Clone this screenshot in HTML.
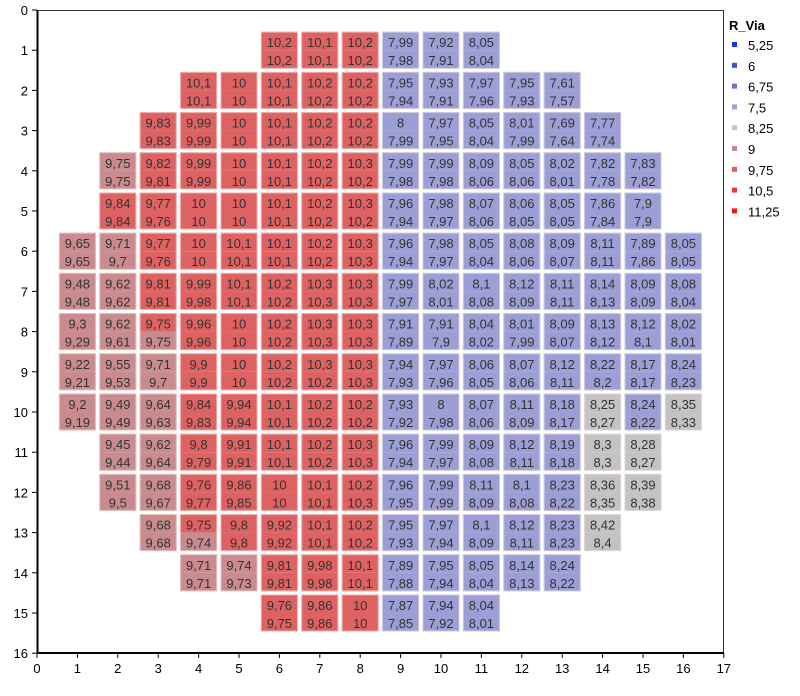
<!DOCTYPE html>
<html><head><meta charset="utf-8"><style>
body{margin:0;background:#fff;}
svg{font-family:"Liberation Sans",Arial,sans-serif;}
</style></head><body>
<svg id="s" width="800" height="691" xmlns="http://www.w3.org/2000/svg"></svg>
<script>
var D={
1:{6:"10,2/10,2",7:"10,1/10,1",8:"10,2/10,2",9:"7,99/7,98",10:"7,92/7,91",11:"8,05/8,04"},
2:{4:"10,1/10,1",5:"10/10",6:"10,1/10,1",7:"10,2/10,2",8:"10,2/10,2",9:"7,95/7,94",10:"7,93/7,91",11:"7,97/7,96",12:"7,95/7,93",13:"7,61/7,57"},
3:{3:"9,83/9,83",4:"9,99/9,99",5:"10/10",6:"10,1/10,1",7:"10,2/10,2",8:"10,2/10,2",9:"8/7,99",10:"7,97/7,95",11:"8,05/8,04",12:"8,01/7,99",13:"7,69/7,64",14:"7,77/7,74"},
4:{2:"9,75/9,75",3:"9,82/9,81",4:"9,99/9,99",5:"10/10",6:"10,1/10,1",7:"10,2/10,2",8:"10,3/10,2",9:"7,99/7,98",10:"7,99/7,98",11:"8,09/8,06",12:"8,05/8,06",13:"8,02/8,01",14:"7,82/7,78",15:"7,83/7,82"},
5:{2:"9,84/9,84",3:"9,77/9,76",4:"10/10",5:"10/10",6:"10,1/10,1",7:"10,2/10,2",8:"10,3/10,2",9:"7,96/7,94",10:"7,98/7,97",11:"8,07/8,06",12:"8,06/8,05",13:"8,05/8,05",14:"7,86/7,84",15:"7,9/7,9"},
6:{1:"9,65/9,65",2:"9,71/9,7",3:"9,77/9,76",4:"10/10",5:"10,1/10,1",6:"10,1/10,1",7:"10,2/10,2",8:"10,3/10,3",9:"7,96/7,94",10:"7,98/7,97",11:"8,05/8,04",12:"8,08/8,06",13:"8,09/8,07",14:"8,11/8,11",15:"7,89/7,86",16:"8,05/8,05"},
7:{1:"9,48/9,48",2:"9,62/9,62",3:"9,81/9,81",4:"9,99/9,98",5:"10,1/10,1",6:"10,2/10,2",7:"10,3/10,3",8:"10,3/10,3",9:"7,99/7,97",10:"8,02/8,01",11:"8,1/8,08",12:"8,12/8,09",13:"8,11/8,11",14:"8,14/8,13",15:"8,09/8,09",16:"8,08/8,04"},
8:{1:"9,3/9,29",2:"9,62/9,61",3:"9,75/9,75",4:"9,96/9,96",5:"10/10",6:"10,2/10,2",7:"10,3/10,3",8:"10,3/10,3",9:"7,91/7,89",10:"7,91/7,9",11:"8,04/8,02",12:"8,01/7,99",13:"8,09/8,07",14:"8,13/8,12",15:"8,12/8,1",16:"8,02/8,01"},
9:{1:"9,22/9,21",2:"9,55/9,53",3:"9,71/9,7",4:"9,9/9,9",5:"10/10",6:"10,2/10,2",7:"10,3/10,2",8:"10,3/10,3",9:"7,94/7,93",10:"7,97/7,96",11:"8,06/8,05",12:"8,07/8,06",13:"8,12/8,11",14:"8,22/8,2",15:"8,17/8,17",16:"8,24/8,23"},
10:{1:"9,2/9,19",2:"9,49/9,49",3:"9,64/9,63",4:"9,84/9,83",5:"9,94/9,94",6:"10,1/10,1",7:"10,2/10,2",8:"10,2/10,2",9:"7,93/7,92",10:"8/7,98",11:"8,07/8,06",12:"8,11/8,09",13:"8,18/8,17",14:"8,25/8,27",15:"8,24/8,22",16:"8,35/8,33"},
11:{2:"9,45/9,44",3:"9,62/9,64",4:"9,8/9,79",5:"9,91/9,91",6:"10,1/10,1",7:"10,2/10,2",8:"10,3/10,3",9:"7,96/7,94",10:"7,99/7,97",11:"8,09/8,08",12:"8,12/8,11",13:"8,19/8,18",14:"8,3/8,3",15:"8,28/8,27"},
12:{2:"9,51/9,5",3:"9,68/9,67",4:"9,76/9,77",5:"9,86/9,85",6:"10/10",7:"10,1/10,1",8:"10,2/10,3",9:"7,96/7,95",10:"7,99/7,99",11:"8,11/8,09",12:"8,1/8,08",13:"8,23/8,22",14:"8,36/8,35",15:"8,39/8,38"},
13:{3:"9,68/9,68",4:"9,75/9,74",5:"9,8/9,8",6:"9,92/9,92",7:"10,1/10,1",8:"10,2/10,2",9:"7,95/7,93",10:"7,97/7,94",11:"8,1/8,09",12:"8,12/8,11",13:"8,23/8,23",14:"8,42/8,4"},
14:{4:"9,71/9,71",5:"9,74/9,73",6:"9,81/9,81",7:"9,98/9,98",8:"10,1/10,1",9:"7,89/7,88",10:"7,95/7,94",11:"8,05/8,04",12:"8,14/8,13",13:"8,24/8,22"},
15:{6:"9,76/9,75",7:"9,86/9,86",8:"10/10",9:"7,87/7,85",10:"7,94/7,92",11:"8,04/8,01"}
};
function col(v){if(v>=9.75)return"#de6262";if(v>=8.6)return"#c98b8d";if(v>=8.25)return"#c3c3c3";return"#9b9fd6";}
var h=[];
var X=function(x){return 37+40.4*x},Y=function(y){return 10+40.2*y};
for(var y in D)for(var x in D[y]){
 var p=D[y][x].split("/"),cx=X(+x),cy=Y(+y);
 var a=parseFloat(p[0].replace(",",".")),b=parseFloat(p[1].replace(",","."));
 var ca=col(a),cb=col(b);
 if(y==4&&x==2){ca=cb="#c98b8d";}
 if(y==8&&x==3){cb="#c98b8d";}
 h.push('<rect x="'+(cx-18.5)+'" y="'+(cy-18.5)+'" width="37" height="18.5" fill="'+ca+'"/>');
 h.push('<rect x="'+(cx-18.5)+'" y="'+cy+'" width="37" height="18.5" fill="'+cb+'"/>');
 h.push('<rect x="'+(cx-18)+'" y="'+(cy-18)+'" width="36" height="36" fill="none" stroke="#f4dede" stroke-opacity="0.6" stroke-width="1"/>');
 h.push('<text x="'+cx+'" y="'+(cy-3)+'" font-size="13" fill="#333" text-anchor="middle">'+p[0]+'</text>');
 h.push('<text x="'+cx+'" y="'+(cy+15)+'" font-size="13" fill="#333" text-anchor="middle">'+p[1]+'</text>');
}
h.push('<rect x="37.5" y="10.5" width="686" height="642.5" fill="none" stroke="#333" stroke-width="1"/>');
h.push('<line x1="37.5" y1="10" x2="37.5" y2="653" stroke="#000" stroke-width="2"/>');
h.push('<line x1="37" y1="653" x2="724" y2="653" stroke="#000" stroke-width="2"/>');
for(var i=0;i<=16;i++){var yy=Y(i);h.push('<line x1="32" y1="'+yy+'" x2="37" y2="'+yy+'" stroke="#000"/>');h.push('<text x="28" y="'+(yy+5)+'" font-size="13" fill="#000" text-anchor="end">'+i+'</text>');}
for(var i=0;i<=17;i++){var xx=X(i);h.push('<line x1="'+xx+'" y1="653" x2="'+xx+'" y2="658" stroke="#000"/>');h.push('<text x="'+xx+'" y="673" font-size="13" fill="#000" text-anchor="middle">'+i+'</text>');}
h.push('<text x="729" y="30" font-size="13" font-weight="bold" fill="#000">R_Via</text>');
var L=[["5,25","#1c2cf0"],["6","#3c4ee6"],["6,75","#6a72d2"],["7,5","#9ca0d4"],["8,25","#c3c3c3"],["9","#c98b8d"],["9,75","#de6262"],["10,5","#ec3434"],["11,25","#f81414"]];
for(var i=0;i<L.length;i++){var ly=45+20.8*i;h.push('<rect x="732" y="'+(ly-3)+'" width="5" height="5" fill="'+L[i][1]+'"/>');h.push('<text x="748" y="'+(ly+5)+'" font-size="13" fill="#000">'+L[i][0]+'</text>');}
document.getElementById("s").innerHTML=h.join("");
</script>
</body></html>
